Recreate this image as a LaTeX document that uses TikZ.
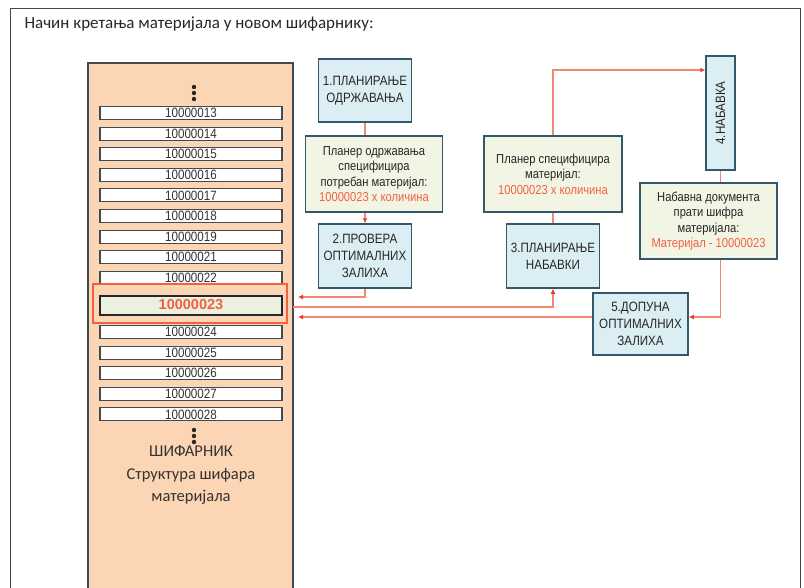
\documentclass[tikz,border=0pt]{standalone}
\usepackage{fontspec}
\setmainfont{Liberation Sans}
\newfontfamily\titlefont{Carlito}
\newfontfamily\narrowfont[FakeStretch=0.86]{Liberation Sans}
\usetikzlibrary{positioning, shapes, arrows.meta}

\definecolor{peach}{RGB}{252,213,180}
\definecolor{stageblue}{RGB}{219,238,244}
\definecolor{notecream}{RGB}{243,245,228}
\definecolor{pickgreen}{RGB}{235,241,222}
\definecolor{boxline}{RGB}{49,89,107}
\definecolor{rowline}{RGB}{64,74,80}
\definecolor{flowred}{RGB}{243,135,118}
\definecolor{tipred}{RGB}{232,62,42}
\definecolor{txtred}{RGB}{241,96,66}
\definecolor{framegray}{RGB}{70,70,70}

\begin{document}
\begin{tikzpicture}[x=1pt, y=-1pt, every node/.style={font=\fontsize{11}{13}\selectfont}]
  % Styles
  \tikzset{
    stage/.style={rectangle, draw=boxline, line width=1.5pt, fill=stageblue, minimum width=93pt, minimum height=64pt, align=center, inner sep=1pt, font=\narrowfont\fontsize{13.5}{17}\selectfont, text=black!85},
    note/.style={rectangle, draw=boxline, line width=1.2pt, fill=notecream, minimum width=137pt, minimum height=76pt, align=center, inner sep=1pt, font=\narrowfont\fontsize{13}{15.5}\selectfont, text=black!85},
    code/.style={rectangle, draw=rowline, line width=1.1pt, fill=white, minimum width=182pt, minimum height=13pt, inner sep=0pt, font=\narrowfont\fontsize{13.5}{12}\selectfont, text=black!80},
    link/.style={draw=flowred, line width=1.5pt},
    flow/.style={-{Latex[length=5pt, width=5pt, color=tipred]}, draw=flowred, line width=1.5pt}
  }
  \useasboundingbox (0,0) rectangle (804,587);

  % Frame and title
  \draw[framegray, line width=1pt] (10,590) -- (10,8) -- (800,8) -- (800,590);
  \node[anchor=base west, font=\titlefont\fontsize{17}{20}\selectfont, text=black!85] (title) at (21,28) {Начин кретања материјала у новом шифарнику:};

  % Code list column
  \filldraw[fill=peach, draw=rowline, line width=1.2pt] (88,595) -- (88,63) -- (293,63) -- (293,595);
  \foreach \dy in {87,93,99,430,436,442} \fill[black!85] (194,\dy) circle (2.2pt);
  \node[code] (c13) at (191,113) {10000013};
  \node[code] (c14) at (191,133.6) {10000014};
  \node[code] (c15) at (191,154.2) {10000015};
  \node[code] (c16) at (191,174.8) {10000016};
  \node[code] (c17) at (191,195.4) {10000017};
  \node[code] (c18) at (191,216) {10000018};
  \node[code] (c19) at (191,236.6) {10000019};
  \node[code] (c21) at (191,257.2) {10000021};
  \node[code] (c22) at (191,277.8) {10000022};
  \node[code, fill=pickgreen, draw=black!85, line width=2pt, minimum height=19pt, font=\bfseries\fontsize{14.5}{14}\selectfont, text=txtred] (c23) at (191,305) {10000023};
  \node[draw=txtred, line width=1.8pt, minimum width=194pt, minimum height=39pt] (pick) at (190,303.5) {};
  \node[code] (c24) at (191,332) {10000024};
  \node[code] (c25) at (191,352.6) {10000025};
  \node[code] (c26) at (191,373.2) {10000026};
  \node[code] (c27) at (191,393.8) {10000027};
  \node[code] (c28) at (191,414.4) {10000028};
  \node[align=center, font=\titlefont\fontsize{16.5}{22.5}\selectfont, text=black!80] (sifarnik) at (191,475) {ШИФАРНИК\\Структура шифара\\материјала};

  % Stages
  \node[stage, minimum height=63pt] (odr1) at (365,90.5) {1.ПЛАНИРАЊЕ\\ОДРЖАВАЊА};
  \node[stage] (prov2) at (365,256) {2.ПРОВЕРА\\ОПТИМАЛНИХ\\ЗАЛИХА};
  \node[stage] (nab3) at (553,256) {3.ПЛАНИРАЊЕ\\НАБАВКИ};
  \node[stage, minimum width=29pt, minimum height=114pt] (nab4) at (720.5,113) {\rotatebox{90}{4.НАБАВКА}};
  \node[stage, minimum width=95pt, minimum height=62pt] (dop5) at (640.5,324) {5.ДОПУНА\\ОПТИМАЛНИХ\\ЗАЛИХА};

  % Notes
  \node[note] (plan1) at (374,174) {Планер одржавања\\специфицира\\потребан материјал:\\\textcolor{txtred}{10000023 x количина}};
  \node[note, minimum width=138pt] (plan2) at (553,174) {Планер специфицира\\материјал:\\\textcolor{txtred}{10000023 x количина}};
  \node[note] (doc) at (708.5,221) {Набавна документа\\прати шифра\\материјала:\\\textcolor{txtred}{Материјал - 10000023}};

  % Free ends at the list
  \coordinate (in23) at (298,297);
  \coordinate (out23) at (293,307);
  \coordinate (back23) at (298,317);

  % Maintenance branch
  \draw[link] (odr1.south) -- (odr1.south |- plan1.north);
  \draw[flow] (odr1.south |- plan1.south) -- (prov2.north);
  \draw[flow] (prov2.south) |- (in23);

  % Purchase branch
  \draw[flow] (out23) -| (nab3.south);
  \draw[link] (nab3.north) -- (plan2.south);
  \draw[flow] (plan2.north) |- ([yshift=43pt]nab4.west);
  \draw[link] (nab4.south) -- (nab4.south |- doc.north);
  \draw[flow] (nab4.south |- doc.south) |- ([yshift=7pt]dop5.east);
  \draw[flow] ([yshift=7pt]dop5.west) -- (back23);
\end{tikzpicture}
\end{document}
